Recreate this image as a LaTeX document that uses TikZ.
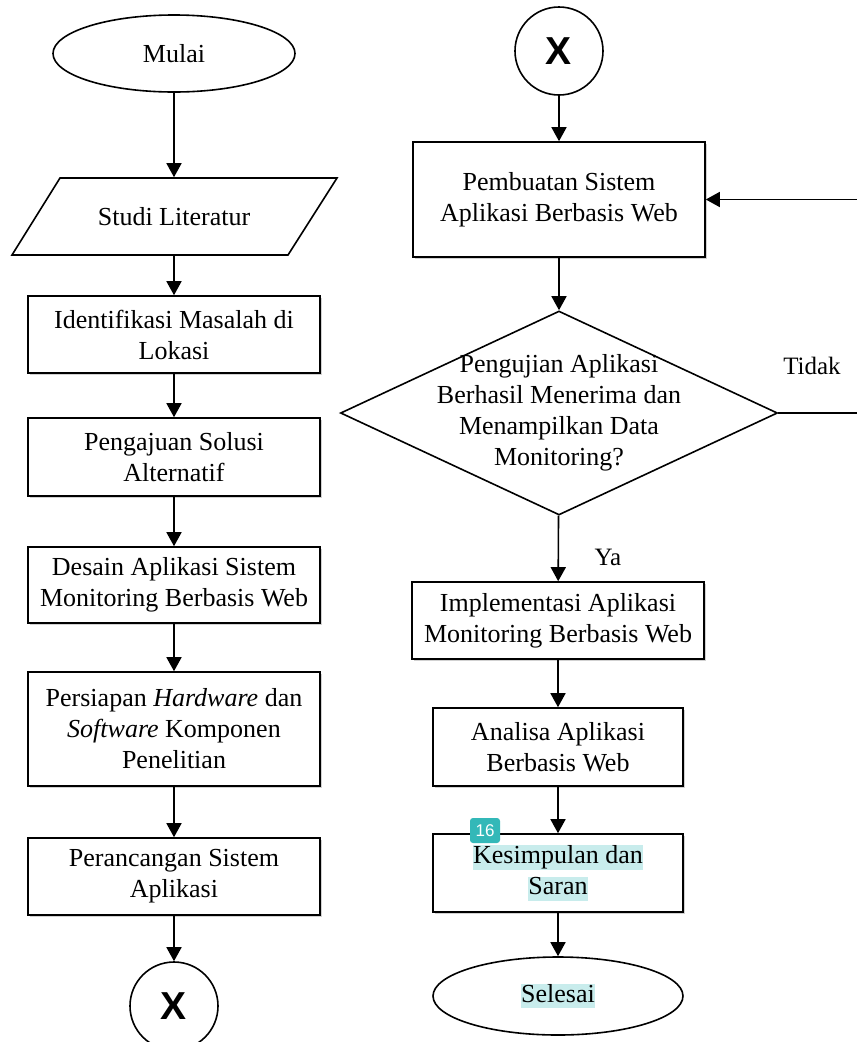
\documentclass[tikz,border=0pt]{standalone}
\usepackage{fontspec}
\setmainfont{Liberation Serif}
\newfontfamily\xsans{Liberation Sans}
\usetikzlibrary{shapes.geometric,arrows.meta,shadows}
\definecolor{hlc}{HTML}{C8ECEC}
\definecolor{badgec}{HTML}{33B8B8}
\newcommand{\hlbox}[1]{{\setlength{\fboxsep}{0pt}\colorbox{hlc}{\rule[-6pt]{0pt}{23pt}#1}}}
\begin{document}
\begin{tikzpicture}[x=1pt,y=-1pt,
  line width=1.6pt,
  every node/.style={font=\fontsize{26}{31}\selectfont, inner sep=0pt},
  shad/.style={drop shadow={shadow xshift=1.5pt, shadow yshift=-2pt, opacity=0.18, fill=black}},
  box/.style={draw, rectangle, fill=white, align=center, minimum width=292pt, shad},
  sbox/.style={draw, rectangle, fill=white, align=center, minimum width=250pt, shad},
  term/.style={draw, ellipse, fill=white, minimum height=77pt},
  conn/.style={draw, circle, fill=white, minimum size=88pt, font=\xsans\bfseries\fontsize{39}{39}\selectfont},
  arr/.style={-{Triangle[length=14pt,width=15pt]}},
  lbl/.style={font=\fontsize{25}{30}\selectfont},
]
\useasboundingbox (0,0) rectangle (857,1042);
\fill[white] (0,0) rectangle (857,1042);
\clip (0,0) rectangle (857,1042);

% left column
\node[term, minimum width=242pt] (mulai) at (174,53.5) {Mulai};
\draw[fill=white] (60,178) -- (337,178) -- (288,255) -- (12,255) -- cycle;
\node[minimum width=230pt, minimum height=77pt] (studi) at (174,216.5) {Studi Literatur};
\node[box, minimum height=77pt] (iden) at (174,334.5) {Identifikasi Masalah di\\Lokasi};
\node[box, minimum height=78pt] (peng) at (174,457) {Pengajuan Solusi\\Alternatif};
\node[box, minimum height=76pt] (desain) at (174,585) {Desain Aplikasi Sistem\\Monitoring Berbasis Web};
\node[box, minimum height=114pt] (persiapan) at (174,729) {Persiapan \textit{Hardware} dan\\\textit{Software} Komponen\\Penelitian};
\node[box, minimum height=77pt] (peranc) at (174,876.5) {Perancangan Sistem\\Aplikasi};
\node[conn] (xl) at (174,1006) {X};

\draw[arr] (mulai) -- (studi);
\draw[arr] (studi) -- (iden);
\draw[arr] (iden) -- (peng);
\draw[arr] (peng) -- (desain);
\draw[arr] (desain) -- (persiapan);
\draw[arr] (persiapan) -- (peranc);
\draw[arr] (peranc) -- (xl);

% right column
\node[conn] (xr) at (559,51) {X};
\node[box, minimum height=115pt] (pemb) at (559,199.5) {Pembuatan Sistem\\Aplikasi Berbasis Web};
\node[draw, diamond, fill=white, minimum width=437pt, minimum height=204pt] (dec) at (559,413) {};
\node[align=center] (dectext) at (559,413) {Pengujian Aplikasi\\Berhasil Menerima dan\\Menampilkan Data\\Monitoring?};
\node[box, minimum height=77pt] (impl) at (558,620.5) {Implementasi Aplikasi\\Monitoring Berbasis Web};
\node[sbox, minimum height=78pt] (anal) at (558,747) {Analisa Aplikasi\\Berbasis Web};
\node[sbox, minimum height=78pt] (kesim) at (558,873) {\hlbox{Kesimpulan dan}\\\hlbox{Saran}};
\node[term, minimum width=250pt, minimum height=78pt] (selesai) at (558,996) {\hlbox{Selesai}};

\draw[arr] (xr) -- (pemb);
\draw[arr] (pemb) -- (dec);
\draw[arr] (dec) -- (impl);
\draw[arr] (impl) -- (anal);
\draw[arr] (anal) -- (kesim);
\draw[arr] (kesim) -- (selesai);

\coordinate (fb1) at (880,413);
\coordinate (fb2) at (880,199.5);
\draw[arr] (dec.east) -- (fb1) -- (fb2) -- (pemb.east);

\node[lbl] (tidak) at (812,366) {Tidak};
\node[lbl] (ya) at (608,557) {Ya};

\node[fill=badgec, rounded corners=3pt, minimum width=30pt, minimum height=25pt, text=white, font=\xsans\fontsize{17}{17}\selectfont] (badge) at (485,830.5) {16};
\end{tikzpicture}
\end{document}
